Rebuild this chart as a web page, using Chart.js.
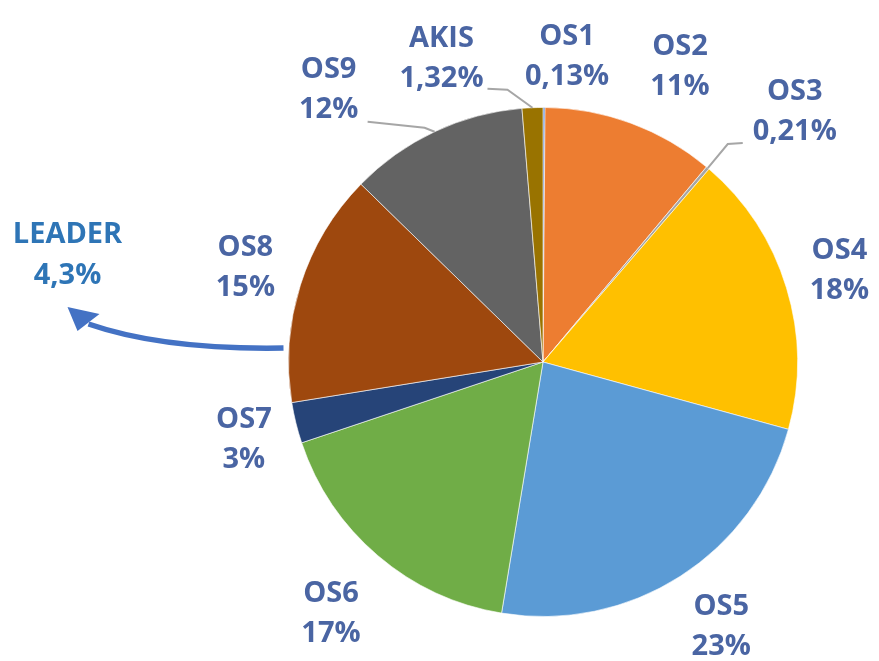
<!DOCTYPE html>
<html>
<head>
<meta charset="utf-8">
<script src="https://cdn.jsdelivr.net/npm/chart.js@4.4.0/dist/chart.umd.min.js"></script>
<style>
html,body{margin:0;padding:0;background:#fff;}
#wrap{width:879px;height:661px;position:relative;}
</style>
</head>
<body>
<div id="wrap"><canvas id="c" width="879" height="661"></canvas></div>
<script>
const categories = ["OS1","OS2","OS3","OS4","OS5","OS6","OS7","OS8","OS9","AKIS"];
const values = [0.13, 11, 0.21, 18, 23.4, 17.3, 2.6, 14.9, 11.4, 1.32];
const valueLabels = ["0,13%","11%","0,21%","18%","23%","17%","3%","15%","12%","1,32%"];
const colors = ["#4472C4","#ED7D31","#A5A5A5","#FFC000","#5B9BD5","#70AD47","#264478","#9E480E","#636363","#997300"];
const noteTitle = "LEADER";
const noteValue = "4,3%";

// label offsets relative to the outer midpoint of each slice
const labelOffsets = [[23,-52],[49,-57],[87,-57],[53,-18],[41,49],[-47,57],[-52,16],[-55,-18],[-106,-43],[-91,-50]];
// leader lines: polyline points relative to label center; last point = slice edge
const leaders = {
  2: [[-52,32],[-67,33]],
  8: [[39,33],[96,39]],
  9: [[46,31],[66,32]]
};

const labelPlugin = {
  id: 'labels',
  afterDraw(chart) {
    const ctx = chart.ctx;
    const meta = chart.getDatasetMeta(0);
    ctx.save();
    ctx.font = "bold 29px 'Open Sans', sans-serif";
    ctx.textAlign = "center";
    ctx.textBaseline = "middle";
    meta.data.forEach((arc, i) => {
      const mid = (arc.startAngle + arc.endAngle) / 2;
      const ex = arc.x + Math.cos(mid) * arc.outerRadius;
      const ey = arc.y + Math.sin(mid) * arc.outerRadius;
      const lx = ex + labelOffsets[i][0];
      const ly = ey + labelOffsets[i][1];
      if (leaders[i]) {
        ctx.strokeStyle = "#A6A6A6";
        ctx.lineWidth = 2;
        ctx.beginPath();
        leaders[i].forEach((p, k) => {
          if (k === 0) ctx.moveTo(lx + p[0], ly + p[1]);
          else ctx.lineTo(lx + p[0], ly + p[1]);
        });
        ctx.lineTo(ex, ey);
        ctx.stroke();
      }
      ctx.fillStyle = "#4A65A3";
      ctx.fillText(categories[i], lx, ly - 19);
      ctx.fillText(valueLabels[i], lx, ly + 21);
    });
    // LEADER note with curved arrow, anchored to the pie's left edge
    const a0 = meta.data[0];
    const sx = a0.x - a0.outerRadius - 5;
    const sy = a0.y - 14;
    ctx.fillStyle = "#2E75B6";
    ctx.fillText(noteTitle, sx - 216, sy - 113);
    ctx.fillText(noteValue, sx - 216, sy - 72);
    ctx.strokeStyle = "#4472C4";
    ctx.fillStyle = "#4472C4";
    ctx.lineWidth = 5.5;
    ctx.beginPath();
    ctx.moveTo(sx, sy);
    ctx.quadraticCurveTo(sx - 120, sy + 2, sx - 195, sy - 24);
    ctx.stroke();
    ctx.beginPath();
    ctx.moveTo(sx - 216, sy - 41);
    ctx.lineTo(sx - 206, sy - 17);
    ctx.lineTo(sx - 184, sy - 34);
    ctx.closePath();
    ctx.fill();
    ctx.restore();
  }
};

new Chart(document.getElementById('c'), {
  type: 'pie',
  data: {
    labels: categories,
    datasets: [{
      data: values,
      backgroundColor: colors,
      borderColor: 'rgba(255,255,255,0.6)',
      borderWidth: 1,
      hoverOffset: 0
    }]
  },
  options: {
    responsive: false,
    animation: false,
    layout: { padding: { left: 288, right: 81, top: 107, bottom: 44 } },
    plugins: { legend: { display: false }, tooltip: { enabled: false } }
  },
  plugins: [labelPlugin]
});
</script>
</body>
</html>
